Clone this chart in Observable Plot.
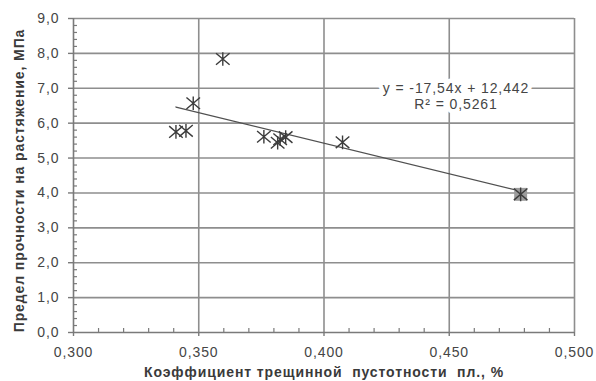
<!DOCTYPE html>
<html>
<head>
<meta charset="utf-8">
<script src="https://cdn.jsdelivr.net/npm/d3@7"></script>
<script src="https://cdn.jsdelivr.net/npm/@observablehq/plot@0.6"></script>
<style>
  html, body { margin: 0; padding: 0; background: #fff; }
  #chart { width: 596px; height: 381px; }
</style>
</head>
<body>
<div id="chart"></div>
<script>
// Fracture void coefficient of the layer vs tensile strength
const voidCoef = [0.3409, 0.3449, 0.3478, 0.3596, 0.3760, 0.3815, 0.3825, 0.3847, 0.4074, 0.4785];
const tensileStrength = [5.75, 5.78, 6.57, 7.84, 5.61, 5.44, 5.54, 5.60, 5.45, 3.96];

// Linear trend (as reported with the chart)
const trendSlope = -17.54;
const trendIntercept = 12.442;
const trendR2 = 0.5261;

const xTicks = [0.30, 0.35, 0.40, 0.45, 0.50];
const xMinorTicks = d3.range(31, 50).map(d => d / 100).filter(d => Math.round(d * 100) % 5 !== 0);
const yTicks = [0, 1, 2, 3, 4, 5, 6, 7, 8, 9];
const yMinorTicks = d3.range(1, 45).map(d => d / 5).filter(d => Math.round(d * 5) % 5 !== 0);

const xLabel = "Коэффициент трещинной  пустотности  пл., %";
const yLabel = "Предел прочности на растяжение, МПа";
const labelAt = {x: 0.4527, y: 6.79};

const points = voidCoef.map((x, i) => ({x, y: tensileStrength[i]}));
const highlighted = [points[points.length - 1]];
const xs = d3.extent(voidCoef);
const trend = xs.map(x => ({x, y: trendSlope * x + trendIntercept}));

const comma = s => s.replace(".", ",");
const fmtX = d => comma(d3.format(".3f")(d));
const fmtY = d => comma(d3.format(".1f")(d));
const fmtNum = d => comma(String(d));
const equation = `y = ${fmtNum(trendSlope)}x + ${fmtNum(trendIntercept)}\nR² = ${fmtNum(trendR2)}`;

// Spreadsheet-style star marker: vertical bar plus a cross
const star = {
  draw(context, size) {
    const r = Math.sqrt(size / Math.PI);
    context.moveTo(0, -r);
    context.lineTo(0, r);
    context.moveTo(-r, -r * 0.85);
    context.lineTo(r, r * 0.85);
    context.moveTo(-r, r * 0.85);
    context.lineTo(r, -r * 0.85);
  }
};

const gridColor = "#8e8e8e";
const axisColor = "#7a7a7a";

const chart = Plot.plot({
  width: 596,
  height: 381,
  marginLeft: 73,
  marginRight: 22,
  marginTop: 18,
  marginBottom: 49,
  style: {fontFamily: "'Liberation Sans', Arial, sans-serif", fontSize: "14px", color: "#454545", background: "#fff", letterSpacing: "0.9px"},
  x: {domain: [0.3, 0.5]},
  y: {domain: [0, 9]},
  marks: [
    Plot.gridX(xTicks.slice(1), {stroke: gridColor, strokeOpacity: 1, strokeWidth: 1.6}),
    Plot.gridY(yTicks.slice(1), {stroke: gridColor, strokeOpacity: 1, strokeWidth: 1.6}),
    Plot.ruleX([0.3], {stroke: axisColor, strokeWidth: 1.6}),
    Plot.ruleY([0], {stroke: axisColor, strokeWidth: 1.6}),
    Plot.axisX(xTicks, {tickSize: 4, tickPadding: 11, tickFormat: fmtX, stroke: axisColor, strokeWidth: 1.4, label: null}),
    Plot.axisX(xMinorTicks, {tickSize: -4, tickFormat: () => "", stroke: axisColor, strokeWidth: 1.2, label: null}),
    Plot.axisY(yTicks, {tickSize: 5, tickPadding: 9, tickFormat: fmtY, stroke: axisColor, strokeWidth: 1.4, label: null}),
    Plot.axisY(yMinorTicks, {tickSize: -4, tickFormat: () => "", stroke: axisColor, strokeWidth: 1.2, label: null}),
    Plot.line(trend, {x: "x", y: "y", stroke: "#505050", strokeWidth: 1.3}),
    Plot.dot(highlighted, {x: "x", y: "y", symbol: "square", r: 7.3, fill: "#9c9c9c", stroke: "none"}),
    Plot.dot(points, {x: "x", y: "y", symbol: star, r: 6.8, stroke: "#3c3c3c", strokeWidth: 1.4}),
    Plot.text([equation], {
      x: () => labelAt.x, y: () => labelAt.y,
      fontSize: 14, lineHeight: 1.17, fill: "#454545",
      stroke: "#fff", strokeWidth: 9, textAnchor: "middle"
    }),
    Plot.text([xLabel], {frameAnchor: "bottom", dy: 40, textAnchor: "middle", fontWeight: "bold", fontSize: 14, fill: "#3a3a3a", lineAnchor: "middle"}),
    Plot.text([yLabel], {frameAnchor: "left", dx: -54, dy: 5, rotate: -90, textAnchor: "middle", fontWeight: "bold", fontSize: 14, fill: "#3a3a3a", lineAnchor: "middle"})
  ]
});

document.getElementById("chart").appendChild(chart);
</script>
</body>
</html>
